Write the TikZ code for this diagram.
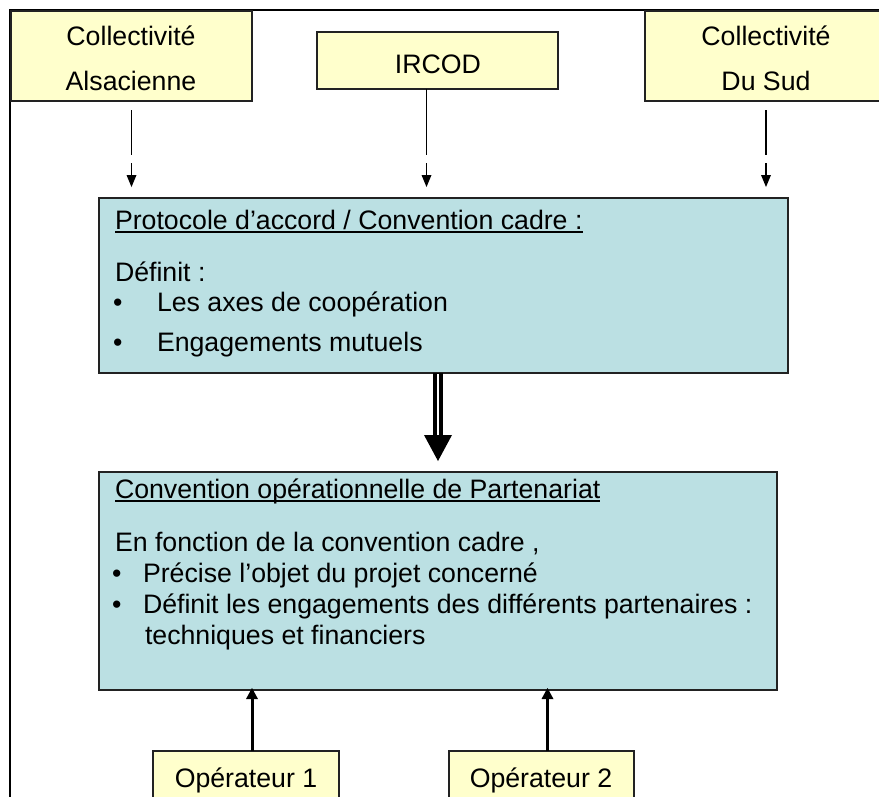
\documentclass[tikz,border=0pt]{standalone}
\usepackage{fontspec}
\setmainfont{Liberation Sans}
\usetikzlibrary{arrows.meta}
\definecolor{boxyellow}{HTML}{FFFFCC}
\definecolor{boxblue}{HTML}{BBE0E3}
\definecolor{boxline}{HTML}{222222}
\begin{document}
\begin{tikzpicture}[x=1pt,y=-1pt,
  ybox/.style={draw=boxline, line width=1.5pt, fill=boxyellow, inner sep=0pt, outer sep=0pt, anchor=north west},
  bbox/.style={draw=boxline, line width=1.5pt, fill=boxblue, inner sep=0pt, outer sep=0pt, anchor=north west},
  txt/.style={inner sep=0pt, outer sep=0pt, font=\fontsize{26.7}{32}\selectfont},
  ulinestyle/.style={line width=1.3pt},
  thinarrow/.style={line width=1.3pt, -{Triangle[width=10pt,length=12pt,line width=0pt]}},
  bigarrow/.style={line width=10pt, -{Triangle[width=28pt,length=26pt,line width=0pt]}},
  oparrow/.style={line width=3pt, -{Triangle[width=12pt,length=11pt,line width=0pt]}}]
\useasboundingbox (0,0) rectangle (879,796);
% outer frame
\draw[line width=2pt] (10,10) rectangle (890,810);
% boxes
\node[ybox, minimum width=241pt, minimum height=90pt] (alsace) at (11,11) {};
\node[ybox, minimum width=241pt, minimum height=57pt] (ircod) at (317,32) {};
\node[ybox, minimum width=242pt, minimum height=90pt] (sud) at (645,11) {};
\node[bbox, minimum width=689pt, minimum height=175pt] (proto) at (99,198) {};
\node[bbox, minimum width=678pt, minimum height=218pt] (conv) at (99,472) {};
\node[ybox, minimum width=186pt, minimum height=60pt] (op1) at (153,751) {};
\node[ybox, minimum width=185pt, minimum height=60pt] (op2) at (449,751) {};
% top texts
\node[txt, anchor=base] (ta1) at (131,45) {Collectivité};
\node[txt, anchor=base] (ta2) at (131,90) {Alsacienne};
\node[txt, anchor=base] (ti) at (438,73) {IRCOD};
\node[txt, anchor=base] (ts1) at (766,45) {Collectivité};
\node[txt, anchor=base] (ts2) at (766,90) {Du Sud};
% protocole texts
\node[txt, anchor=base west] (ptitle) at (115,229) {Protocole d’accord / Convention cadre :};
\draw[ulinestyle] ([yshift=-3pt]ptitle.base west) -- ([yshift=-3pt]ptitle.base east);
\node[txt, anchor=base west] (pdef) at (115,281) {Définit :};
\node[txt, anchor=base west] (pb1) at (113,311) {•};
\node[txt, anchor=base west] (pl1) at (157,311) {Les axes de coopération};
\node[txt, anchor=base west] (pb2) at (113,351) {•};
\node[txt, anchor=base west] (pl2) at (157,351) {Engagements mutuels};
% convention texts
\node[txt, anchor=base west] (ctitle) at (115,498) {Convention opérationnelle de Partenariat};
\draw[ulinestyle] ([yshift=-3pt]ctitle.base west) -- ([yshift=-3pt]ctitle.base east);
\node[txt, anchor=base west] (cfon) at (115,551) {En fonction de la convention cadre ,};
\node[txt, anchor=base west] (cb1) at (112,582) {•};
\node[txt, anchor=base west] (cl1) at (143,582) {Précise l’objet du projet concerné};
\node[txt, anchor=base west] (cb2) at (112,613) {•};
\node[txt, anchor=base west] (cl2) at (143,613) {Définit les engagements des différents partenaires :};
\node[txt, anchor=base west] (cl3) at (145,644) {techniques et financiers};
% operator texts
\node[txt, anchor=base] (to1) at (246,787) {Opérateur 1};
\node[txt, anchor=base] (to2) at (541,787) {Opérateur 2};
% top arrows
\coordinate (ia) at ([xshift=-11pt]ircod.south);
\draw[thinarrow, dash pattern=on 45pt off 8pt on 300pt, shorten <=9pt, shorten >=11pt] (alsace.south) -- (alsace.south |- proto.north);
\draw[thinarrow, dash pattern=on 66pt off 8pt on 300pt, shorten >=11pt] (ia) -- (ia |- proto.north);
\draw[thinarrow, dash pattern=on 45pt off 8pt on 300pt, shorten <=9pt, shorten >=11pt] (sud.south) -- (sud.south |- proto.north);
% big arrow
\draw[bigarrow, shorten >=11pt] (conv.north |- proto.south) -- (conv.north);
\draw[white, line width=1.3pt] ([yshift=-1pt]conv.north |- proto.south) -- ([yshift=37pt]conv.north);
% operator arrows
\coordinate (oa1) at ([xshift=6pt]op1.north);
\coordinate (oa2) at ([xshift=6pt]op2.north);
\draw[oparrow, shorten >=-2pt] (oa1) -- (oa1 |- conv.south);
\draw[oparrow, shorten >=-2pt] (oa2) -- (oa2 |- conv.south);
\end{tikzpicture}
\end{document}
